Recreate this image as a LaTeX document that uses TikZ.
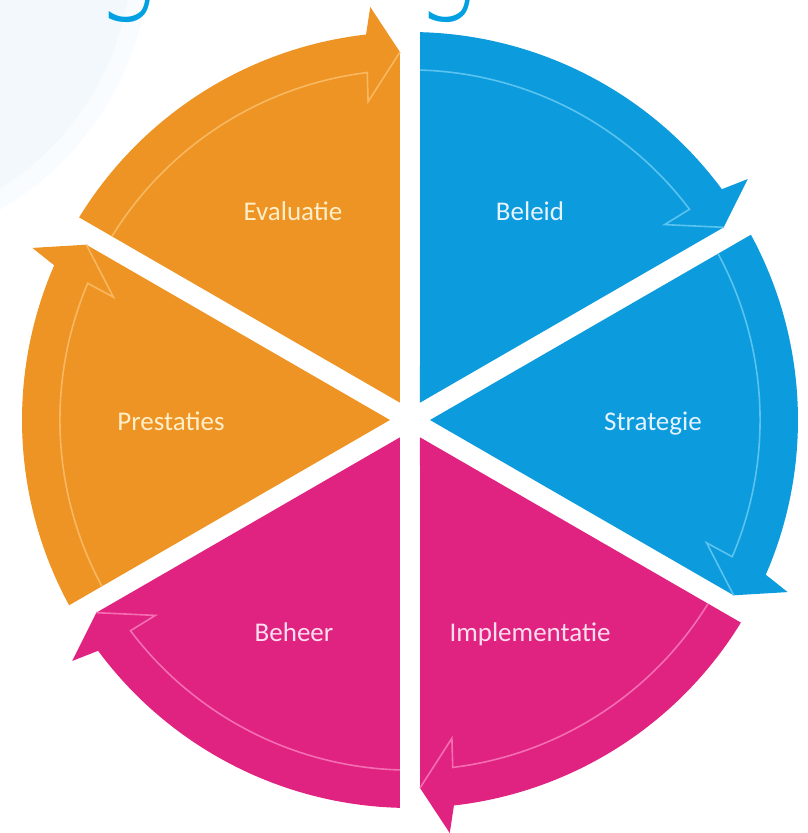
\documentclass[tikz,border=0pt]{standalone}
\usepackage{fontspec}
\setmainfont{Carlito}
\newfontfamily\gfont{DejaVu Sans ExtraLight}
\definecolor{blueF}{RGB}{12,155,220}
\definecolor{blueL}{RGB}{90,195,240}
\definecolor{blueT}{RGB}{228,243,255}
\definecolor{pinkF}{RGB}{224,34,128}
\definecolor{pinkL}{RGB}{244,110,180}
\definecolor{pinkT}{RGB}{252,222,238}
\definecolor{orF}{RGB}{238,148,36}
\definecolor{orL}{RGB}{248,184,96}
\definecolor{orT}{RGB}{255,238,200}
\definecolor{gblue}{RGB}{0,160,226}
\definecolor{haze}{RGB}{243,248,253}
\definecolor{haze2}{RGB}{249,252,254}
\tikzset{
  sectorlbl/.style={font=\fontsize{27}{30}\selectfont, inner sep=0pt, anchor=base},
  thinarrow/.style={line width=1.6pt, line join=miter},
  bigg/.style={text=gblue, font=\gfont\fontsize{140}{140}\selectfont, anchor=south west, inner sep=0pt},
}
\begin{document}
\begin{tikzpicture}[x=1pt,y=1pt]
\useasboundingbox (-410,-413) rectangle (398,420);
\begin{scope}
  \clip (-410,-413) rectangle (398,420);
  \fill[haze2] (-560,470) circle (300);
  \fill[haze] (-560,470) circle (282);
  \node[bigg] (g1) at (-314,397) {\scalebox{0.75}[1]{g}};
  \node[bigg] (g2) at (6,397) {\scalebox{0.75}[1]{g}};
\end{scope}
\foreach \a/\fc/\lc in {90/blueF/blueL, 30/blueF/blueL, -30/pinkF/pinkL, -90/pinkF/pinkL, -150/orF/orL, 150/orF/orL}{
  \pgfmathsetmacro{\b}{\a-60}
  \fill[\fc] (\a-30:20) -- (\a-1.48:388)
     arc[start angle=\a-1.48, end angle=\b+6.5, radius=388]
     -- (\b+5.5:415) -- (\b+1.56:368.1) -- cycle;
  \draw[\lc, thinarrow] (\a-1.64:350.1)
     arc[start angle=\a-1.64, end angle=\b+7, radius=350]
     -- (\b+7.5:321) -- (\b+1.56:368.1);
}
\node[sectorlbl, text=blueT] (beleid) at (120,199) {Beleid};
\node[sectorlbl, text=blueT] (strategie) at (243,-10) {Strategie};
\node[sectorlbl, text=pinkT] (impl) at (120,-221) {Implementatie};
\node[sectorlbl, text=pinkT] (beheer) at (-116,-221) {Beheer};
\node[sectorlbl, text=orT] (prest) at (-239,-10) {Prestaties};
\node[sectorlbl, text=orT] (eval) at (-117,199) {Evaluatie};
\end{tikzpicture}
\end{document}
